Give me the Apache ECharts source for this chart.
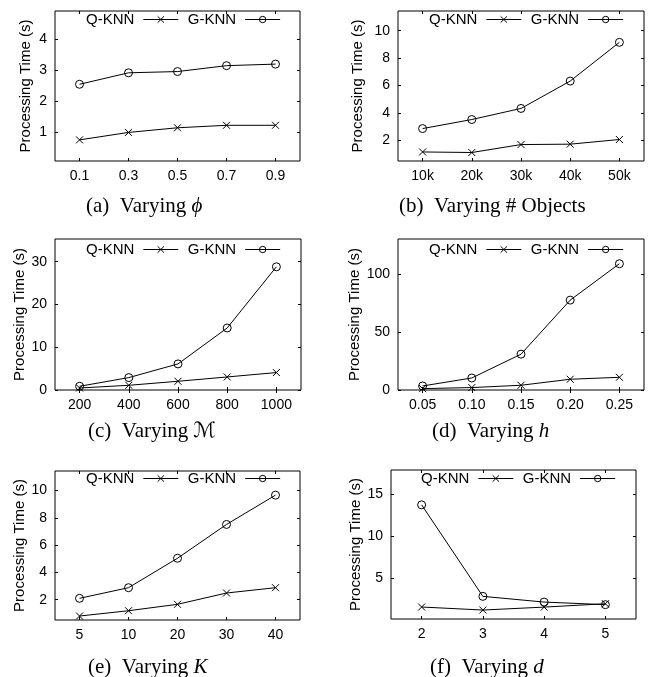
<!DOCTYPE html>
<html>
<head>
<meta charset="utf-8">
<script src="https://cdn.jsdelivr.net/npm/echarts@6/dist/echarts.min.js"></script>
<style>
  html, body { margin: 0; padding: 0; background: #fff; }
  #chart { width: 652px; height: 677px; }
</style>
</head>
<body>
<div id="chart"></div>
<script>
// values
const catsA = ['0.1', '0.3', '0.5', '0.7', '0.9'];
const qknnA = [0.75, 0.99, 1.14, 1.22, 1.22];
const gknnA = [2.54, 2.91, 2.95, 3.14, 3.19];
const ticksA = [1, 2, 3, 4];

const catsB = ['10k', '20k', '30k', '40k', '50k'];
const qknnB = [1.14, 1.10, 1.68, 1.71, 2.05];
const gknnB = [2.85, 3.51, 4.32, 6.32, 9.15];
const ticksB = [2, 4, 6, 8, 10];

const catsC = ['200', '400', '600', '800', '1000'];
const qknnC = [0.47, 1.10, 2.04, 3.05, 4.08];
const gknnC = [0.87, 2.90, 6.10, 14.5, 28.8];
const ticksC = [0, 10, 20, 30];

const catsD = ['0.05', '0.10', '0.15', '0.20', '0.25'];
const qknnD = [1.2, 2.1, 4.1, 9.3, 11.0];
const gknnD = [3.5, 10.4, 31.0, 77.8, 109.3];
const ticksD = [0, 50, 100];

const catsE = ['5', '10', '20', '30', '40'];
const qknnE = [0.80, 1.19, 1.66, 2.49, 2.88];
const gknnE = [2.10, 2.88, 5.04, 7.52, 9.67];
const ticksE = [2, 4, 6, 8, 10];

const catsF = ['2', '3', '4', '5'];
const qknnF = [1.51, 1.15, 1.50, 1.90];
const gknnF = [13.7, 2.78, 2.10, 1.79];
const ticksF = [5, 10, 15];

const SANS = 'Liberation Sans, Arial, sans-serif';
const SERIF = 'Liberation Serif, DejaVu Serif, serif';
const CROSS = 'path://M0,0L10,10M10,0L0,10';

const panels = [
  { cats: catsA, q: qknnA, g: gknnA, ticks: ticksA, min: 0.07, max: 4.9,
    grid: [55, 11, 245, 150], gap: 22, legend: [86, 12], cap: [86, 208], text: '(a)  Varying {i|ϕ}' },
  { cats: catsB, q: qknnB, g: gknnB, ticks: ticksB, min: 0.48, max: 11.44,
    grid: [398, 11, 246, 150], gap: 33, legend: [429, 12], cap: [399, 208], text: '(b)  Varying # Objects' },
  { cats: catsC, q: qknnC, g: gknnC, ticks: ticksC, min: 0, max: 35.3,
    grid: [55, 239, 246, 151], gap: 24, legend: [86, 242], cap: [88, 433], text: '(c)  Varying {m|ℳ}' },
  { cats: catsD, q: qknnD, g: gknnD, ticks: ticksD, min: 0, max: 130.7,
    grid: [398, 239, 246, 151], gap: 35, legend: [429, 242], cap: [432, 433], text: '(d)  Varying {i|h}' },
  { cats: catsE, q: qknnE, g: gknnE, ticks: ticksE, min: 0.51, max: 11.44,
    grid: [55, 471, 245, 149], gap: 27, legend: [86, 471], cap: [88, 669], text: '(e)  Varying {i|K}' },
  { cats: catsF, q: qknnF, g: gknnF, ticks: ticksF, min: 0.08, max: 17.86,
    grid: [391, 470, 245, 149], gap: 26, legend: [421, 471], cap: [430, 669], text: '(f)  Varying {i|d}' }
];

const grids = [], xAxes = [], yAxes = [], series = [], legends = [], graphics = [];

panels.forEach((p, i) => {
  grids.push({
    left: p.grid[0], top: p.grid[1], width: p.grid[2], height: p.grid[3],
    show: true, borderColor: '#000', borderWidth: 1, backgroundColor: 'transparent',
    outerBoundsMode: 'none'
  });
  const tick = { show: true, inside: true, length: 3, alignWithLabel: true, lineStyle: { color: '#000' } };
  xAxes.push({
    type: 'category', gridIndex: i, data: p.cats, boundaryGap: true, position: 'bottom',
    axisLine: { show: false }, axisTick: tick,
    axisLabel: { color: '#000', fontSize: 14, fontFamily: SANS, margin: 8 }
  });
  xAxes.push({
    type: 'category', gridIndex: i, data: p.cats, boundaryGap: true, position: 'top',
    axisLine: { show: false }, axisTick: tick, axisLabel: { show: false }
  });
  const ytick = { show: true, inside: true, length: 3, customValues: p.ticks, lineStyle: { color: '#000' } };
  yAxes.push({
    type: 'value', gridIndex: i, min: p.min, max: p.max, position: 'left',
    axisLine: { show: false }, splitLine: { show: false }, axisTick: ytick,
    axisLabel: { color: '#000', fontSize: 14, fontFamily: SANS, margin: 8, customValues: p.ticks },
    name: 'Processing Time (s)', nameLocation: 'middle', nameGap: p.gap,
    nameTextStyle: { color: '#000', fontSize: 15, fontFamily: SANS }
  });
  yAxes.push({
    type: 'value', gridIndex: i, min: p.min, max: p.max, position: 'right',
    axisLine: { show: false }, splitLine: { show: false }, axisTick: ytick,
    axisLabel: { show: false, customValues: p.ticks }
  });
  series.push({
    name: 'Q-KNN', type: 'line', xAxisIndex: 2 * i, yAxisIndex: 2 * i, data: p.q,
    symbol: CROSS, symbolSize: 7,
    lineStyle: { color: '#000', width: 1 },
    itemStyle: { color: 'transparent', borderColor: '#000', borderWidth: 1 },
    animation: false
  });
  series.push({
    name: 'G-KNN', type: 'line', xAxisIndex: 2 * i, yAxisIndex: 2 * i, data: p.g,
    symbol: 'circle', symbolSize: 8,
    lineStyle: { color: '#000', width: 1 },
    itemStyle: { color: 'transparent', borderColor: '#000', borderWidth: 1 },
    animation: false
  });
  legends.push({
    left: p.legend[0], top: p.legend[1], padding: 0, orient: 'horizontal',
    align: 'right', itemWidth: 35, itemHeight: 8, itemGap: 9, selectedMode: false,
    data: ['Q-KNN', 'G-KNN'],
    lineStyle: { color: '#000', width: 1 },
    itemStyle: { color: 'transparent', borderColor: '#000', borderWidth: 1 },
    textStyle: { color: '#000', fontSize: 15, fontFamily: SANS, padding: [0, 4, 0, 0] }
  });
  graphics.push({
    type: 'text', left: p.cap[0], top: p.cap[1] - 12,
    style: {
      text: p.text, fill: '#000', font: '21px ' + SERIF,
      rich: {
        i: { fontStyle: 'italic', fontSize: 21, fontFamily: SERIF },
        m: { fontSize: 21, fontFamily: 'DejaVu Serif, DejaVu Sans, serif' }
      }
    }
  });
});

const chart = echarts.init(document.getElementById('chart'));
chart.setOption({
  backgroundColor: '#fff',
  animation: false,
  grid: grids,
  xAxis: xAxes,
  yAxis: yAxes,
  legend: legends,
  series: series,
  graphic: graphics
});
</script>
</body>
</html>
